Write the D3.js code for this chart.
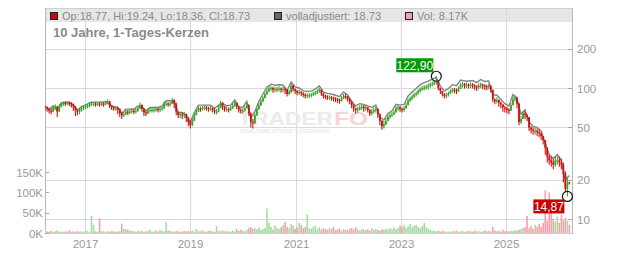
<!DOCTYPE html>
<html>
<head>
<meta charset="utf-8">
<script src="https://cdn.jsdelivr.net/npm/d3@7"></script>
<style>
  body { margin: 0; background: #fff; }
  svg { display: block; font-family: Arial, "Liberation Sans", sans-serif; }
</style>
</head>
<body>
<svg id="chart" width="632" height="253"></svg>
<script>
// 10 years of 2-week candles
var startDate = new Date(Date.UTC(2016, 2, 28));
var stepDays = 14;

var closes = [
  71,69,67,66,71,72,66,72,75,77,
  76,77,76,75,72,68,66,67,70,71,
  72,73,75,76,76,75,76,75,76,75,
  77,79,73,71,70,70,69,64,62,63,
  66,65,66,67,66,67,70,74,69,65,
  64,67,68,68,68,69,68,69,70,76,
  76,75,76,81,76,66,62,63,62,63,
  59,55,52,56,62,66,70,69,70,71,
  70,69,70,68,66,66,70,77,72,69,
  69,68,70,73,77,72,68,67,67,70,
  74,64,55,54,62,69,74,79,84,90,
  95,99,100,97,98,98,99,97,98,97,
  90,93,104,98,95,92,93,91,89,87,
  88,88,89,91,92,95,97,91,87,86,
  85,85,84,83,82,81,80,84,87,86,
  83,79,74,70,68,69,71,72,70,71,
  68,64,66,68,69,63,56,51,53,56,
  60,62,63,65,70,71,69,68,70,74,
  80,83,86,89,91,95,98,100,101,102,
  104,106,108,110,112,100,95,90,87,89,
  91,95,97,96,95,99,105,107,104,106,
  104,106,105,103,101,104,106,104,103,102,
  104,97,82,79,81,77,75,71,70,68,
  67,74,82,84,76,55,58,64,62,60,
  50,48,47,47,46,45,43,40,35,30,
  28,27,26,28,28,27,26,22,17,19,
  18.73
];

var highs = [
  74,72,70,70,74,75,73,75,78,79,
  79,79,79,78,76,73,69,70,73,74,
  75,76,78,79,78,78,78,78,79,78,
  80,82,80,74,73,73,72,70,66,66,
  69,68,69,70,69,70,73,77,75,70,
  67,70,71,71,71,72,71,72,73,79,
  79,78,79,84,82,77,66,66,65,66,
  64,60,57,59,65,69,73,72,73,74,
  73,72,73,71,70,69,74,80,78,73,
  72,71,73,76,80,78,73,70,70,73,
  77,75,65,58,64,71,77,82,87,93,
  99,103,104,102,102,102,103,101,102,101,
  98,97,108,106,99,96,97,95,93,91,
  91,91,92,94,95,98,101,98,91,89,
  88,88,87,86,85,84,83,87,90,90,
  87,84,80,75,71,72,74,75,74,74,
  72,69,69,71,72,70,64,57,56,59,
  63,65,66,68,73,74,73,71,73,77,
  83,86,89,92,94,98,101,104,105,106,
  108,110,112,114,122.9,113,99,95,91,92,
  94,98,100,100,99,103,109,111,109,110,
  108,110,109,107,105,108,110,108,107,106,
  108,105,97,83,85,82,79,75,73,72,
  70,77,86,88,86,77,61,67,66,63,
  60,51,50,50,49,48,46,43,40,35,
  31,30,29,30,30,30,29,27,23,21,
  19.24
];

var lows = [
  67,66,64,63,66,68,60,66,71,73,
  73,74,73,71,67,61,62,63,66,68,
  69,70,71,73,73,72,73,72,73,72,
  74,75,70,68,67,67,63,60,58,60,
  62,62,63,64,63,64,66,69,66,61,
  61,63,65,65,65,66,65,66,67,69,
  73,72,72,75,70,62,59,59,58,59,
  55,51,49,51,56,62,66,66,67,68,
  67,66,67,65,63,63,65,70,68,66,
  66,65,67,69,72,69,65,64,64,66,
  70,61,50,49,53,61,68,73,78,83,
  88,93,95,92,93,93,94,92,93,90,
  86,88,91,94,90,88,89,87,85,83,
  84,84,85,87,88,90,92,87,83,82,
  81,81,80,79,78,77,76,79,82,82,
  79,75,70,66,64,65,67,68,66,67,
  65,61,62,64,65,59,52,48,49,52,
  56,58,60,62,65,67,66,65,66,69,
  74,78,81,84,86,89,92,95,96,97,
  98,101,103,105,106,96,90,86,83,84,
  86,90,92,91,90,93,98,101,99,100,
  99,100,99,97,95,98,100,98,97,96,
  98,92,78,75,76,72,70,66,65,64,
  63,69,76,79,70,52,53,58,58,56,
  47,45,44,44,43,42,40,37,31,27,
  26,25,24,25,26,25,24,19,16,14.87,
  18.36
];

// adjusted close (grey line), every second candle
var adjusted = [
  73,69,73,68,77,78,78,74,68,72,
  74,77,78,78,78,79,75,72,71,64,
  69,69,69,73,72,67,71,71,71,73,
  80,80,80,65,65,62,55,65,74,74,
  74,74,70,74,76,73,74,81,72,71,
  79,59,66,79,90,102,107,105,106,105,
  96,111,102,100,95,94,95,98,104,93,
  91,90,88,86,93,89,79,73,76,75,
  73,71,74,60,57,64,67,75,74,75,
  87,93,99,106,110,113,117,121,103,95,
  99,106,104,115,113,113,114,110,116,112,
  113,89,88,82,76,73,89,83,63,68,
  55,51,50,47,38,31,29,31,28,20,
  21.5
];

// volume in thousands
var volumes = [
  15,4,3,5,3,4,6,3,4,3,
  4,3,7,3,4,3,5,3,4,3,
  4,5,3,42,20,4,3,36,5,4,
  3,4,3,5,4,3,4,4,23,10,
  10,8,6,5,4,3,5,4,6,3,
  4,5,8,3,4,6,4,7,5,4,
  27,6,5,4,3,5,4,3,4,5,
  4,5,4,6,3,10,5,4,7,4,
  3,5,6,4,3,17,5,4,6,4,
  5,4,3,6,4,10,5,8,6,4,
  8,12,15,10,12,9,14,8,10,12,
  60,25,15,8,18,12,10,14,20,27,
  15,12,22,18,10,14,25,20,12,15,
  45,12,10,15,18,10,14,8,12,10,
  8,12,10,15,7,9,11,6,10,8,
  7,10,12,8,14,9,6,10,8,7,
  9,6,12,8,10,7,6,9,8,10,
  8,12,9,14,10,12,18,15,20,12,
  16,22,14,18,20,15,12,17,25,14,
  10,8,6,5,4,6,3,5,4,3,
  4,3,5,4,6,3,4,5,3,4,
  5,4,3,6,4,5,3,4,6,4,
  5,4,15,6,4,5,3,8,4,5,
  4,6,5,7,5,8,10,12,15,42,
  12,18,10,20,15,22,16,25,105,30,
  100,55,35,28,40,25,45,32,38,30,
  20
];

var priceTicks = [10, 20, 50, 100, 200];
var volumeTicks = [0, 50, 100, 150];
var yearTicks = [2017, 2019, 2021, 2023, 2025];
var legendText = ["Op:18.77, Hi:19.24, Lo:18.36, Cl:18.73", "volladjustiert: 18.73", "Vol: 8.17K"];
var title = "10 Jahre, 1-Tages-Kerzen";

var de = d3.formatLocale({decimal: ",", thousands: ".", grouping: [3], currency: ["", "€"]});
var fmtPrice = de.format(".2f");

///////////////////////////////////////////////////////////////////////////////
// Setup
///////////////////////////////////////////////////////////////////////////////

var svg = d3.select("#chart");
// (careful: "top" is taken by window.top)
var pLeft = 45, pRight = 572, pTop = 8, pBottom = 233;

var candles = closes.map(function (c, i) {
  var o = i > 0 ? closes[i - 1] : c;
  return {
    date: d3.utcDay.offset(startDate, stepDays * i),
    open: o, close: c,
    high: Math.max(highs[i], o, c),
    low: Math.min(lows[i], o, c),
    vol: volumes[i]
  };
});
var adjPoints = adjusted.map(function (v, j) {
  return {date: d3.utcDay.offset(startDate, stepDays * 2 * j), value: v};
});

var x = d3.scaleUtc()
  .domain([new Date(Date.UTC(2016, 2, 27)), new Date(Date.UTC(2026, 3, 3))])
  .range([pLeft, pRight]);
var y = d3.scaleLog().domain([10, 100]).range([219, 88]);
var yVol = d3.scaleLinear().domain([0, 150]).range([pBottom, pBottom - 61]);

function yearX(yr) { return Math.round(x(new Date(Date.UTC(yr, 0, 1)))) + 0.5; }

svg.append("defs").append("clipPath").attr("id", "plotclip")
  .append("rect").attr("x", pLeft).attr("y", pTop).attr("width", pRight - pLeft).attr("height", pBottom - pTop);

// legend band
svg.append("rect").attr("x", pLeft).attr("y", pTop).attr("width", pRight - pLeft).attr("height", 14)
  .attr("fill", "#e6e6e6");

// grid
var grid = svg.append("g").attr("stroke", "#d9d9d9").attr("stroke-width", 1);
grid.selectAll(".vg").data(yearTicks).enter().append("line")
  .attr("x1", yearX).attr("x2", yearX)
  .attr("y1", pTop).attr("y2", pBottom);
grid.selectAll(".hg").data(priceTicks).enter().append("line")
  .attr("x1", pLeft).attr("x2", pRight)
  .attr("y1", function (d) { return Math.round(y(d)) + 0.5; })
  .attr("y2", function (d) { return Math.round(y(d)) + 0.5; });

// frame
svg.append("rect").attr("x", pLeft + 0.5).attr("y", pTop + 0.5)
  .attr("width", pRight - pLeft).attr("height", pBottom - pTop)
  .attr("fill", "none").attr("stroke", "#d0d0d0");
svg.append("line").attr("x1", pLeft + 0.5).attr("x2", pLeft + 0.5).attr("y1", pTop).attr("y2", pBottom + 1)
  .attr("stroke", "#b8b8b8");
svg.append("line").attr("x1", pRight + 0.5).attr("x2", pRight + 0.5).attr("y1", pTop).attr("y2", pBottom + 1)
  .attr("stroke", "#b8b8b8");

// watermark
var wm = svg.append("g");
wm.append("text").attr("x", 238).attr("y", 125)
  .attr("font-size", 18).attr("font-weight", "bold").attr("fill", "#ebebeb")
  .attr("textLength", 95).attr("lengthAdjust", "spacingAndGlyphs")
  .text("TRADER");
wm.append("text").attr("x", 334).attr("y", 125)
  .attr("font-size", 18).attr("font-weight", "bold").attr("fill", "#f9d2d6")
  .attr("textLength", 34).attr("lengthAdjust", "spacingAndGlyphs")
  .text("FO");
wm.append("text").attr("x", 240).attr("y", 133)
  .attr("font-size", 5.5).attr("font-weight", "bold").attr("fill", "#e9e9e9")
  .attr("textLength", 90).attr("lengthAdjust", "spacingAndGlyphs")
  .text("REALTIME STOCK SCREENING");

var plot = svg.append("g").attr("clip-path", "url(#plotclip)");

// volume bars
plot.append("g").selectAll("rect").data(candles).enter().append("rect")
  .attr("x", function (d) { return x(d.date) - 0.8; })
  .attr("width", 1.6)
  .attr("y", function (d) { return yVol(d.vol); })
  .attr("height", function (d) { return yVol(0) - yVol(d.vol); })
  .attr("fill", function (d) { return d.close < d.open ? "#f1a3ab" : "#a6dca0"; });

// adjusted line
plot.append("path").datum(adjPoints)
  .attr("fill", "none").attr("stroke", "#858585").attr("stroke-width", 1.4)
  .attr("d", d3.line().x(function (d) { return x(d.date); }).y(function (d) { return y(d.value); }));

// candles
var cg = plot.append("g").selectAll("g").data(candles).enter().append("g")
  .attr("fill", function (d) { return d.close < d.open ? "#cc1111" : "#3aa52a"; })
  .attr("stroke", function (d) { return d.close < d.open ? "#cc1111" : "#3aa52a"; });
cg.append("line")
  .attr("x1", function (d) { return x(d.date); })
  .attr("x2", function (d) { return x(d.date); })
  .attr("y1", function (d) { return y(d.high); })
  .attr("y2", function (d) { return y(d.low); })
  .attr("stroke-width", 1.1);
cg.append("rect")
  .attr("stroke", "none")
  .attr("x", function (d) { return x(d.date) - 0.9; })
  .attr("width", 1.8)
  .attr("y", function (d) { return y(Math.max(d.open, d.close)); })
  .attr("height", function (d) { return Math.max(1, Math.abs(y(d.open) - y(d.close))); });

// high / low markers
var hiC = candles.reduce(function (a, b) { return b.high > a.high ? b : a; });
var loC = candles.reduce(function (a, b) { return b.low < a.low ? b : a; });

function marker(d, value, color, boxX, boxY, w) {
  var cx = x(d.date), cy = y(value);
  svg.append("circle").attr("cx", cx).attr("cy", cy).attr("r", 5)
    .attr("fill", "none").attr("stroke", "#111").attr("stroke-width", 1.2);
  svg.append("rect").attr("x", cx + boxX).attr("y", cy + boxY).attr("width", w).attr("height", 14)
    .attr("fill", color);
  svg.append("text").attr("x", cx + boxX + w / 2).attr("y", cy + boxY + 11.5)
    .attr("text-anchor", "middle").attr("font-size", 12).attr("fill", "#fff")
    .text(fmtPrice(value));
}
marker(hiC, hiC.high, "#0a960a", -40, -18, 37);
marker(loC, loC.low, "#cc0000", -34, 3, 31);

// right price axis
var ra = svg.append("g");
ra.selectAll("line").data(priceTicks).enter().append("line")
  .attr("x1", pRight - 4).attr("x2", pRight)
  .attr("y1", function (d) { return Math.round(y(d)) + 0.5; })
  .attr("y2", function (d) { return Math.round(y(d)) + 0.5; })
  .attr("stroke", "#aaa");
ra.selectAll("text").data(priceTicks).enter().append("text")
  .attr("x", pRight + 5).attr("y", function (d) { return y(d) + 4.5; })
  .attr("font-size", 11.5).attr("fill", "#999")
  .text(function (d) { return d; });

// left volume axis
var la = svg.append("g");
la.selectAll("line").data(volumeTicks).enter().append("line")
  .attr("x1", pLeft).attr("x2", pLeft + 4)
  .attr("y1", function (d) { return Math.round(yVol(d)) + 0.5; })
  .attr("y2", function (d) { return Math.round(yVol(d)) + 0.5; })
  .attr("stroke", "#aaa");
la.selectAll("text").data(volumeTicks).enter().append("text")
  .attr("x", pLeft - 2).attr("y", function (d) { return yVol(d) + 4.5; })
  .attr("text-anchor", "end").attr("font-size", 11.5).attr("fill", "#999")
  .text(function (d) { return d + "K"; });

// year labels
svg.append("g").selectAll("text").data(yearTicks).enter().append("text")
  .attr("x", yearX)
  .attr("y", 248).attr("text-anchor", "middle").attr("font-size", 11.5).attr("fill", "#999")
  .text(function (d) { return d; });

// legend (widths as measured on the reference)
var legendItems = [
  {x: 50, fill: "#b80f0f", text: legendText[0], w: 188},
  {x: 274, fill: "#666", text: legendText[1], w: 95},
  {x: 405, fill: "#f0a3ab", text: legendText[2], w: 51}
];
var lg = svg.append("g").selectAll("g").data(legendItems).enter().append("g");
lg.append("rect").attr("x", function (d) { return d.x + 0.5; }).attr("y", 12.5)
  .attr("width", 7).attr("height", 7).attr("fill", function (d) { return d.fill; })
  .attr("stroke", "#222");
lg.append("text").attr("x", function (d) { return d.x + 12; }).attr("y", 19.5)
  .attr("font-size", 11).attr("fill", "#8a8a8a")
  .attr("textLength", function (d) { return d.w; }).attr("lengthAdjust", "spacing")
  .text(function (d) { return d.text; });

svg.append("text").attr("x", 53).attr("y", 37)
  .attr("font-size", 13).attr("font-weight", "bold").attr("fill", "#8a8a8a")
  .text(title);
</script>
</body>
</html>
